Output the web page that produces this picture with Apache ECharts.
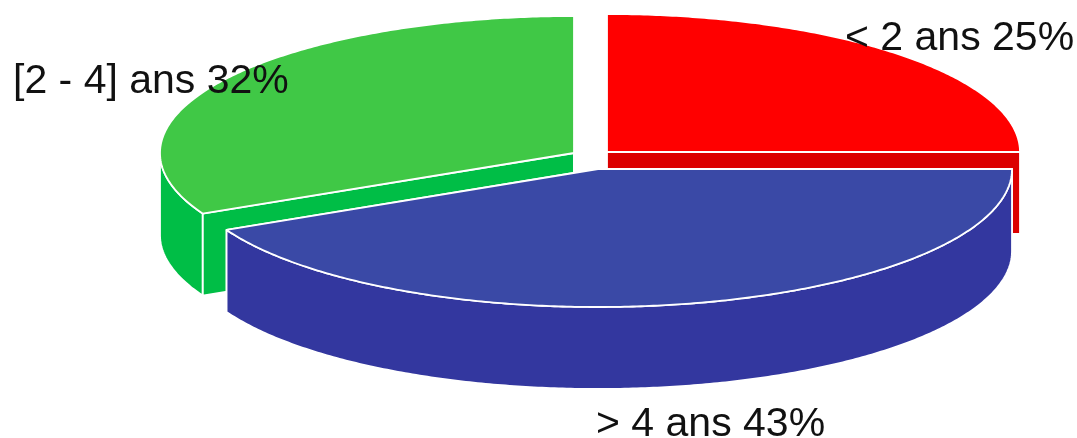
<!DOCTYPE html>
<html>
<head>
<meta charset="utf-8">
<style>html,body{margin:0;padding:0;background:#fff}#chart{width:1077px;height:438px}</style>
<script src="https://cdn.jsdelivr.net/npm/echarts@6/dist/echarts.min.js"></script>
</head>
<body>
<div id="chart"></div>
<script>
// Seniority breakdown, drawn as an exploded 3D pie
const categories = ['< 2 ans', '> 4 ans', '[2 - 4] ans'];
const shares = [25, 43, 32];

const topColors = ['#FF0000', '#3A49A6', '#40C846'];
const sideColors = ['#DC0000', '#33379F', '#00BE46'];

// Disc layout in pixel units of the hidden axes
const discCentres = [[607, 152], [598, 169], [574, 153]];
const discRadii = [[413, 138], [414, 138], [414, 137]];
const discDepth = 82;
const labelAnchors = [[845, 39], [596, 425], [13, 82]];
const paintOrder = [0, 2, 1];

const START = -Math.PI / 2; // twelve o'clock
const VIEW_SKEW = 0.023;    // slight foreshortening of radial edges seen from the tilted viewpoint
const total = shares.reduce((a, b) => a + b, 0);

function viewAngle(a) {
  return a + VIEW_SKEW * Math.sin(2 * a);
}

function sliceAngles(i) {
  const before = shares.slice(0, i).reduce((a, b) => a + b, 0);
  return [
    viewAngle(START + before / total * 2 * Math.PI),
    viewAngle(START + (before + shares[i]) / total * 2 * Math.PI)
  ];
}

function rimPoint(i, angle, drop) {
  return [
    discCentres[i][0] + discRadii[i][0] * Math.cos(angle),
    discCentres[i][1] + discRadii[i][1] * Math.sin(angle) + drop
  ];
}

function arc(i, from, to, drop) {
  const steps = Math.max(2, Math.ceil(Math.abs(to - from) / 0.01));
  const pts = [];
  for (let k = 0; k <= steps; k++) pts.push(rimPoint(i, from + (to - from) * k / steps, drop));
  return pts;
}

function renderSlice(params, api) {
  const i = api.value(0);
  const [a0, a1] = sliceAngles(i);
  const toPx = pts => pts.map(p => api.coord(p));
  const c = discCentres[i];
  const face = (pts, fill) => ({
    type: 'polygon',
    shape: { points: toPx(pts) },
    style: { fill, stroke: '#FFFFFF', lineWidth: 1.8, lineJoin: 'round' }
  });
  const children = [];

  // Cut faces along the two radial edges
  [a0, a1].forEach(a => {
    const r = rimPoint(i, a, 0);
    children.push(face([c, r, [r[0], r[1] + discDepth], [c[0], c[1] + discDepth]], sideColors[i]));
  });

  // Outer wall, only where the rim faces the viewer
  const w0 = Math.max(a0, 0), w1 = Math.min(a1, Math.PI);
  if (w1 > w0) {
    children.push(face(arc(i, w0, w1, 0).concat(arc(i, w1, w0, discDepth)), sideColors[i]));
  }

  // Top of the slice
  children.push(face([c].concat(arc(i, a0, a1, 0)), topColors[i]));

  // Category and share
  const anchor = api.coord(labelAnchors[i]);
  children.push({
    type: 'text',
    z2: 10,
    x: anchor[0],
    y: anchor[1],
    style: {
      text: categories[i] + ' ' + shares[i] + '%',
      fontFamily: '"Liberation Sans", Arial, sans-serif',
      fontSize: 41,
      fill: '#111111',
      align: 'left',
      verticalAlign: 'middle'
    }
  });
  return { type: 'group', children };
}

const chart = echarts.init(document.getElementById('chart'), null, { renderer: 'canvas' });
chart.setOption({
  animation: false,
  backgroundColor: '#FFFFFF',
  grid: { left: 0, right: 0, top: 0, bottom: 0 },
  xAxis: { type: 'value', min: 0, max: 1077, show: false },
  yAxis: { type: 'value', min: 0, max: 438, inverse: true, show: false },
  series: [{
    type: 'custom',
    coordinateSystem: 'cartesian2d',
    silent: true,
    clip: false,
    renderItem: renderSlice,
    encode: { x: 1, y: 2 },
    data: paintOrder.map(i => [i, shares[i], 0])
  }]
});
</script>
</body>
</html>
